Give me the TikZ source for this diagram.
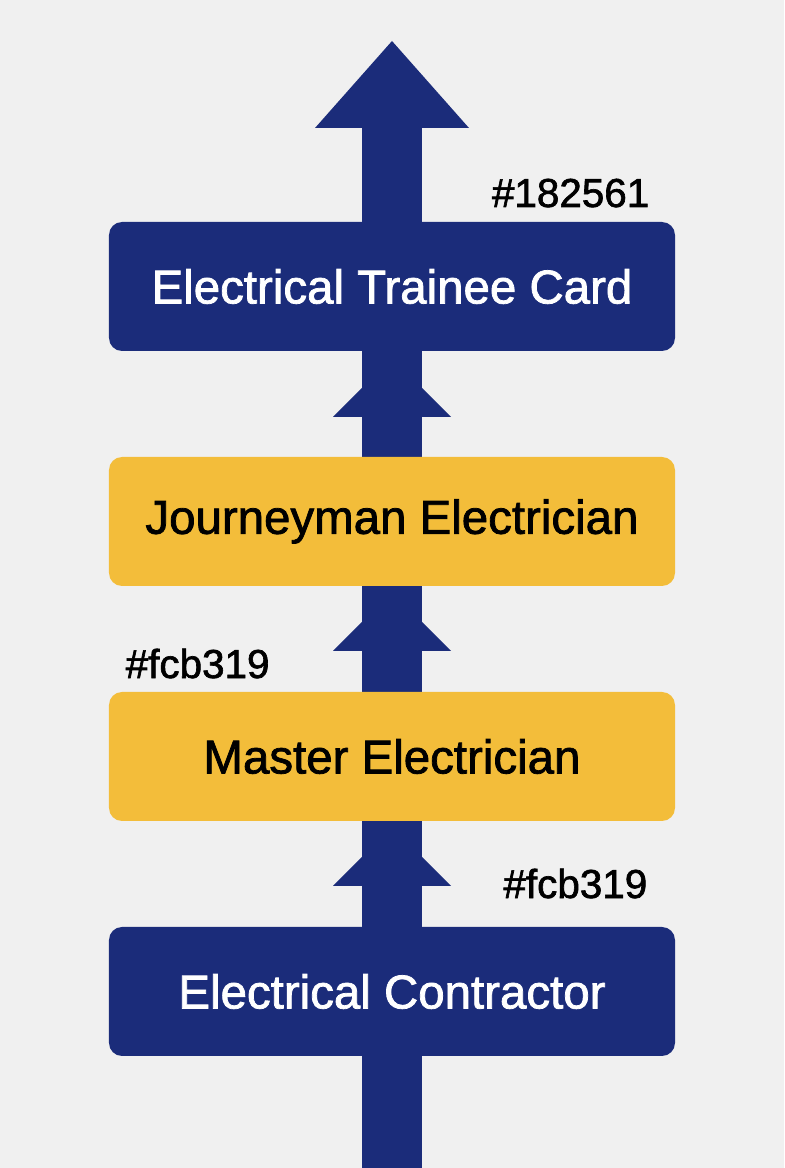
\documentclass[tikz,border=0pt]{standalone}
\usepackage{fontspec}
\setmainfont{Liberation Sans}[FakeBold=1.6]
\usepackage{tikz}
\usetikzlibrary{positioning}
\definecolor{navy}{HTML}{1B2C7A}
\definecolor{gold}{HTML}{F3BD3A}
\definecolor{paper}{HTML}{F0F0F0}

\begin{document}
\begin{tikzpicture}[
    stage/.style={rounded corners=0.13cm, minimum width=5.66cm, minimum height=1.29cm,
                  inner sep=0, outer sep=0, font=\fontsize{13.5pt}{16pt}\selectfont},
    bluestage/.style={stage, fill=navy, text=white},
    goldstage/.style={stage, fill=gold, text=black},
    tag/.style={inner sep=0, font=\fontsize{11.5pt}{14pt}\selectfont}
  ]
    \useasboundingbox (0, 0) rectangle (7.84, 11.68);
    \fill[paper] (0, 0) rectangle (7.84, 11.68);

    % shaft and the big arrow head
    \coordinate (bottom) at (3.92, 0);
    \coordinate (top) at (3.92, 10.40);
    \draw[navy, line width=0.6cm] (bottom) -- (top);
    \fill[navy] (3.15, 10.40) -- (3.92, 11.27) -- (4.69, 10.40) -- cycle;

    % small heads between the stages
    \fill[navy] (3.33, 7.51) -- (3.92, 8.10) -- (4.51, 7.51) -- cycle;
    \fill[navy] (3.33, 5.17) -- (3.92, 5.76) -- (4.51, 5.17) -- cycle;
    \fill[navy] (3.33, 2.82) -- (3.92, 3.41) -- (4.51, 2.82) -- cycle;

    \node[bluestage] (trainee) at (3.92, 8.815) {Electrical Trainee Card};
    \node[goldstage, below=1.06cm of trainee] (journeyman) {Journeyman Electrician};
    \node[goldstage, below=1.06cm of journeyman] (master) {Master Electrician};
    \node[bluestage, below=1.06cm of master] (contractor) {Electrical Contractor};

    \node[tag, anchor=base east] (navytag) at (6.50, 9.61) {\#182561};
    \node[tag, anchor=base west] (goldtag) at (1.25, 4.90) {\#fcb319};
    \node[tag, anchor=base east] (goldtagb) at (6.48, 2.70) {\#fcb319};
  \end{tikzpicture}
\end{document}
